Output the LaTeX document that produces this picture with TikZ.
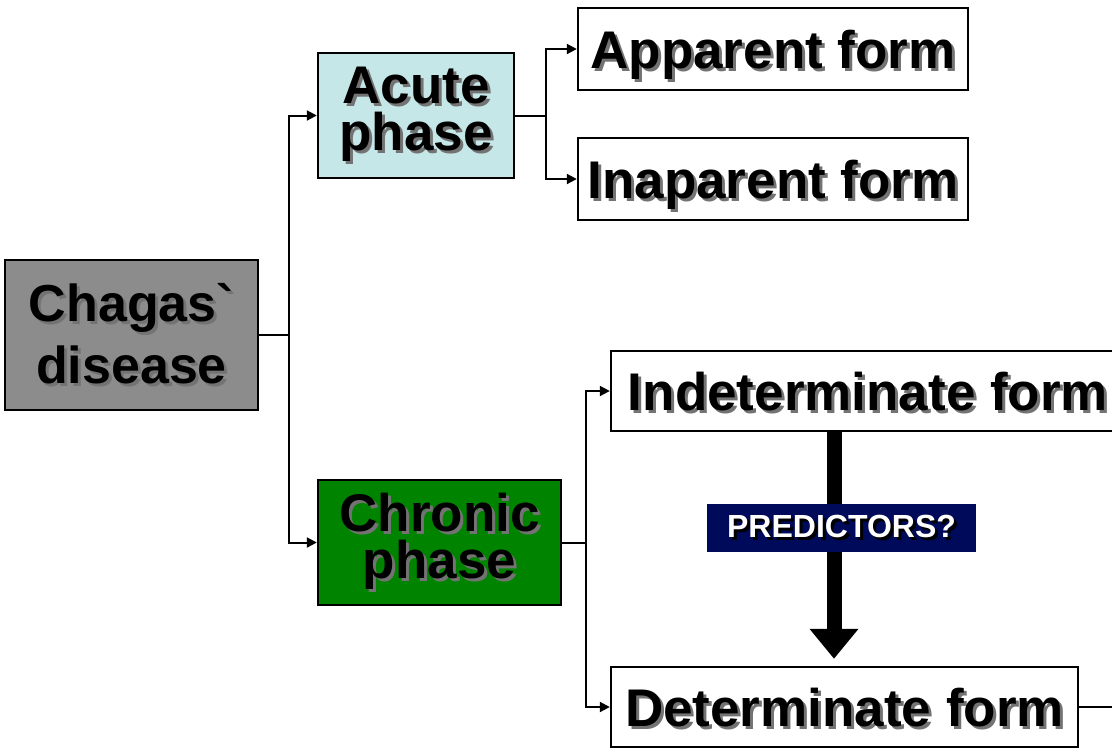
\documentclass[tikz,border=0pt]{standalone}
\usepackage{fontspec}
\setmainfont{Liberation Sans}[Ligatures=TeXOff]
\usetikzlibrary{arrows.meta}
\definecolor{chagasgray}{RGB}{140,140,140}
\definecolor{acutecyan}{RGB}{198,231,232}
\definecolor{chronicgreen}{RGB}{0,132,0}
\definecolor{prednavy}{RGB}{0,10,90}
\newcommand{\shd}[2][black!55]{\makebox[0pt][l]{\hspace{1.5pt}\raisebox{-1.5pt}{\color{#1}#2}}#2}

\begin{document}
\begin{tikzpicture}[x=0.5pt,y=-0.5pt,
  box/.style={draw,line width=1.2pt,inner sep=0pt,align=center,
    font=\fontsize{26.5}{23.5}\selectfont\bfseries},
  formbox/.style={box,text depth=0pt,minimum height=40pt},
  link/.style={line width=1pt,-{Triangle[length=5pt,width=5pt]}},
  bigarrow/.style={line width=7.5pt,-{Triangle[length=15pt,width=23.5pt]}}]
  \fill[white] (0,0) rectangle (1112,751);
  \useasboundingbox (0,0) rectangle (1112,751);
  %
  \node[box,fill=chagasgray,minimum width=126.5pt,minimum height=75pt,
    font=\fontsize{26}{31}\selectfont\bfseries] (chagas) at (131.5,335) {\shd{Chagas`}\\\shd{disease}};
  \node[box,fill=acutecyan,minimum width=98pt,minimum height=62.5pt] (acute) at (416,115.5) {\shd{Acute}\\\shd{phase}};
  \node[box,fill=chronicgreen,minimum width=121.5pt,minimum height=62.5pt] (chronic) at (439.5,542.5) {\shd{Chronic}\\\shd{phase}};
  %
  \node[formbox,minimum width=195pt,minimum height=41pt] (apparent) at (773,49) {\shd{Apparent form}};
  \node[formbox,minimum width=195pt,minimum height=41pt] (inaparent) at (773,179) {\shd{Inaparent form}};
  %
  \node[formbox,minimum width=257pt] (indet) at (868,391) {\shd{Indeterminate form}};
  \node[formbox,minimum width=233.5pt] (determ) at (844.5,707) {\shd{Determinate form}};
  \coordinate (edge) at (1112,707);
  %
  \draw[link] (chagas.east) -- ++(30,0) |- (acute.west);
  \draw[link] (chagas.east) -- ++(30,0) |- (chronic.west);
  \draw[link] (acute.east) -- ++(31,0) |- (apparent.west);
  \draw[link] (acute.east) -- ++(31,0) |- (inaparent.west);
  \draw[link] (chronic.east) -- ++(24,0) |- (indet.west);
  \draw[link] (chronic.east) -- ++(24,0) |- (determ.west);
  \draw[line width=1pt] (determ.east) -- (edge);
  %
  \draw[bigarrow,shorten >=3.5pt] (indet.south -| 834,0) -- (determ.north -| 834,0);
  \node[fill=prednavy,text=white,inner sep=0pt,minimum width=134.5pt,minimum height=24pt,
    font=\fontsize{16}{18}\selectfont\bfseries] (pred) at (841.5,528) {\shd[black]{PREDICTORS?}};
  %
\end{tikzpicture}
\end{document}
